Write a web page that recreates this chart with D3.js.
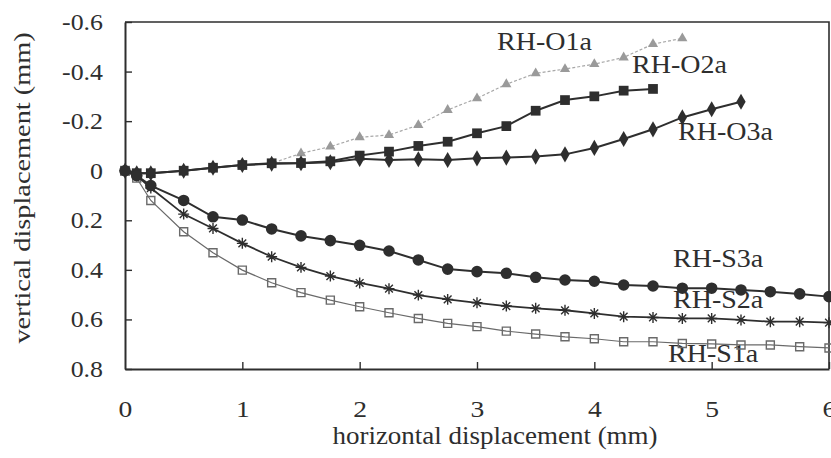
<!DOCTYPE html>
<html>
<head>
<meta charset="utf-8">
<script src="https://cdn.jsdelivr.net/npm/d3@7"></script>
<style>
  html, body { margin: 0; padding: 0; background: #fff; }
  svg text { font-family: "Liberation Serif", "Times New Roman", serif; }
</style>
</head>
<body>
<div id="chart"></div>
<script>
// ----- DATA -----
const xTicks = [0, 1, 2, 3, 4, 5, 6];
const xTickLabels = ["0", "1", "2", "3", "4", "5", "6"];
const yTicks = [-0.6, -0.4, -0.2, 0, 0.2, 0.4, 0.6, 0.8];
const yTickLabels = ["-0.6", "-0.4", "-0.2", "0", "0.2", "0.4", "0.6", "0.8"];

// horizontal displacement (mm) of the readings
const hS = [0, 0.1, 0.22, 0.5, 0.75, 1, 1.25, 1.5, 1.75, 2, 2.25, 2.5, 2.75, 3, 3.25, 3.5, 3.75, 4, 4.25, 4.5, 4.75, 5, 5.25, 5.5, 5.75, 6];
const hO1 = [0, 0.1, 0.22, 0.5, 0.75, 1, 1.25, 1.5, 1.75, 2, 2.25, 2.5, 2.75, 3, 3.25, 3.5, 3.75, 4, 4.25, 4.5, 4.75];
const hO2 = [0, 0.1, 0.22, 0.5, 0.75, 1, 1.25, 1.5, 1.75, 2, 2.25, 2.5, 2.75, 3, 3.25, 3.5, 3.75, 4, 4.25, 4.5];
const hO3 = [0, 0.1, 0.22, 0.5, 0.75, 1, 1.25, 1.5, 1.75, 2, 2.25, 2.5, 2.75, 3, 3.25, 3.5, 3.75, 4, 4.25, 4.5, 4.75, 5, 5.25];

// vertical displacement (mm), positive = settlement
const vS3 = [0, 0.02, 0.06, 0.12, 0.186, 0.199, 0.235, 0.263, 0.282, 0.301, 0.324, 0.36, 0.397, 0.407, 0.414, 0.43, 0.441, 0.446, 0.461, 0.465, 0.474, 0.474, 0.481, 0.488, 0.497, 0.508];
const vS2 = [0, 0.02, 0.07, 0.175, 0.233, 0.293, 0.347, 0.39, 0.425, 0.453, 0.476, 0.502, 0.519, 0.533, 0.546, 0.555, 0.563, 0.576, 0.589, 0.592, 0.596, 0.596, 0.602, 0.609, 0.609, 0.613];
const vS1 = [0, 0.03, 0.12, 0.246, 0.331, 0.401, 0.452, 0.492, 0.522, 0.549, 0.573, 0.596, 0.616, 0.629, 0.647, 0.659, 0.67, 0.678, 0.69, 0.69, 0.697, 0.699, 0.703, 0.703, 0.71, 0.715];
const vO1 = [0, 0.01, 0.01, 0, -0.012, -0.023, -0.03, -0.07, -0.097, -0.135, -0.144, -0.184, -0.245, -0.292, -0.349, -0.393, -0.41, -0.43, -0.457, -0.511, -0.534];
const vO2 = [0, 0.01, 0.01, 0, -0.012, -0.023, -0.03, -0.031, -0.038, -0.061, -0.077, -0.1, -0.117, -0.151, -0.18, -0.242, -0.285, -0.3, -0.323, -0.33];
const vO3 = [0, 0.01, 0.01, 0, -0.012, -0.023, -0.028, -0.03, -0.034, -0.048, -0.043, -0.046, -0.043, -0.05, -0.053, -0.057, -0.066, -0.092, -0.128, -0.167, -0.215, -0.248, -0.278];

const seriesNames = ["RH-O1a", "RH-O2a", "RH-O3a", "RH-S3a", "RH-S2a", "RH-S1a"];

// ----- LAYOUT -----
const W = 831, H = 458;
const ink = "#2e2e2e";
const stretch = 1.15; // the printed font runs wider than Times

const svg = d3.select("#chart").append("svg")
    .attr("width", W)
    .attr("height", H);

const x = d3.scaleLinear().domain([0, 6]).range([125, 829]);
const y = d3.scaleLinear().domain([-0.6, 0.8]).range([22, 369]);

// frame (top and right)
svg.append("path")
    .attr("d", `M${x(0)},${y(-0.6)}H${x(6)}V${y(0.8)}`)
    .attr("fill", "none").attr("stroke", ink).attr("stroke-width", 1.6);

// axes
const xAxis = svg.append("g")
    .attr("transform", `translate(0,${y(0.8)})`)
    .call(d3.axisBottom(x).tickValues(xTicks).tickSizeInner(-7).tickSizeOuter(0)
        .tickFormat((d, i) => xTickLabels[i]));
const yAxis = svg.append("g")
    .attr("transform", `translate(${x(0)},0)`)
    .call(d3.axisLeft(y).tickValues(yTicks).tickSizeInner(-7).tickSizeOuter(0)
        .tickFormat((d, i) => yTickLabels[i]));

[xAxis, yAxis].forEach(a => {
    a.attr("font-family", null).attr("font-size", null);
    a.select(".domain").attr("stroke", ink).attr("stroke-width", 2);
    a.selectAll(".tick line").attr("stroke", ink).attr("stroke-width", 1.4);
});
xAxis.selectAll(".tick line").filter(d => d === 0).remove();

xAxis.selectAll(".tick text")
    .attr("x", null).attr("y", null).attr("dy", null)
    .attr("transform", `translate(0,48) scale(${stretch},1)`)
    .attr("fill", ink)
    .style("font-size", "24px")
    .attr("text-anchor", "middle");
yAxis.selectAll(".tick text")
    .attr("x", null).attr("dy", null)
    .attr("transform", `translate(-22,7.5) scale(${stretch},1)`)
    .attr("fill", ink)
    .style("font-size", "22.5px")
    .attr("text-anchor", "end");

// axis titles
svg.append("text")
    .attr("transform", `translate(495,444) scale(1.08,1)`)
    .attr("text-anchor", "middle")
    .style("font-size", "25px")
    .attr("fill", ink)
    .text("horizontal displacement (mm)");
svg.append("text")
    .attr("transform", `translate(30,188) rotate(-90) scale(1.18,1)`)
    .attr("text-anchor", "middle")
    .style("font-size", "24px")
    .attr("fill", ink)
    .text("vertical displacement (mm)");

// series labels (drawn under the marks)
const labelPos = [[497, 50], [632, 73], [678, 140], [673, 267], [673, 308], [668, 362]];
svg.append("g").selectAll("text")
    .data(seriesNames)
    .join("text")
    .attr("transform", (d, i) => `translate(${labelPos[i][0]},${labelPos[i][1]}) scale(1.12,1)`)
    .style("font-size", "25px")
    .attr("fill", ink)
    .text(d => d);

// ----- SERIES -----
const line = d3.line().x(d => x(d[0])).y(d => y(d[1]));
const zip = (hs, vs) => hs.map((h, i) => [h, vs[i]]);

const asterisk = {
    draw(ctx, size) {
        const r = Math.sqrt(size) / 2;
        for (let k = 0; k < 4; k++) {
            const a = k * Math.PI / 4;
            ctx.moveTo(-r * Math.cos(a), -r * Math.sin(a));
            ctx.lineTo(r * Math.cos(a), r * Math.sin(a));
        }
    }
};

const series = [
    { pts: zip(hO1, vO1), stroke: "#a8a8a8", width: 1.2, dash: "3,2", symbol: d3.symbolTriangle, size: 45, fill: "#9a9a9a", mstroke: "none" },
    { pts: zip(hO2, vO2), stroke: ink, width: 2, dash: null, symbol: d3.symbolSquare, size: 95, fill: ink, mstroke: "none" },
    { pts: zip(hO3, vO3), stroke: ink, width: 2, dash: null, symbol: d3.symbolDiamond, size: 75, fill: ink, mstroke: "none" },
    { pts: zip(hS, vS1), stroke: "#6a6a6a", width: 1.2, dash: null, symbol: d3.symbolSquare, size: 64, fill: "none", mstroke: "#6a6a6a" },
    { pts: zip(hS, vS2), stroke: ink, width: 1.8, dash: null, symbol: asterisk, size: 120, fill: "none", mstroke: ink },
    { pts: zip(hS, vS3), stroke: ink, width: 2, dash: null, symbol: d3.symbolCircle, size: 105, fill: ink, mstroke: "none" }
];

series.forEach(s => {
    const g = svg.append("g");
    g.append("path")
        .datum(s.pts)
        .attr("d", line)
        .attr("fill", "none")
        .attr("stroke", s.stroke)
        .attr("stroke-width", s.width)
        .attr("stroke-dasharray", s.dash);
    g.selectAll("path.mark")
        .data(s.pts)
        .join("path")
        .attr("class", "mark")
        .attr("transform", d => `translate(${x(d[0])},${y(d[1])})`)
        .attr("d", d3.symbol().type(s.symbol).size(s.size))
        .attr("fill", s.fill)
        .attr("stroke", s.mstroke)
        .attr("stroke-width", 1.4);
});
</script>
</body>
</html>
